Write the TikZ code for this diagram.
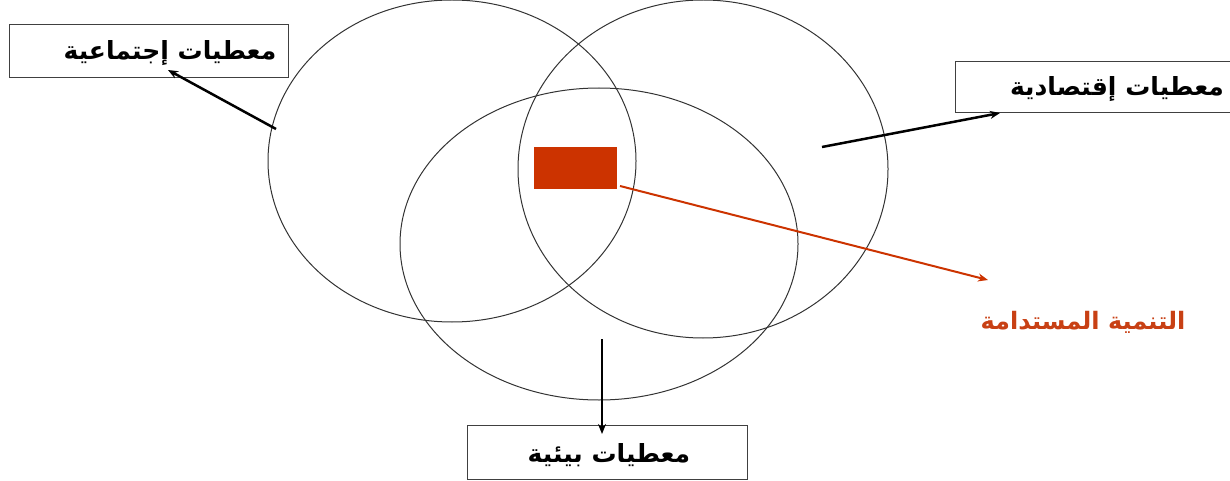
\documentclass[tikz,border=0pt]{standalone}
\usepackage{fontspec}
\newfontfamily\arabicfont[Script=Arabic]{DejaVu Sans}
\TeXXeTstate=1
\usetikzlibrary{arrows.meta}
\definecolor{sdred}{RGB}{204,51,0}
\definecolor{sdtext}{RGB}{200,64,20}
\tikzset{
  circ/.style={draw=black!80, line width=1pt},
  labbox/.style={draw=black!75, line width=1pt, fill=white},
  lab/.style={font=\arabicfont\bfseries\fontsize{25}{28}\selectfont, inner sep=0pt},
  blk/.style={-{Stealth[length=10pt,width=8pt]}, line width=2.5pt},
  redarr/.style={-{Stealth[length=10pt,width=8pt]}, line width=2pt, draw=sdred}
}
\begin{document}
\begin{tikzpicture}[x=1pt,y=-1pt]
\useasboundingbox (0,0) rectangle (1230,481);
% ellipses
\draw[circ] (452,161) ellipse [x radius=184, y radius=161];
\draw[circ] (703,169) ellipse [x radius=185, y radius=169];
\draw[circ] (599,244) ellipse [x radius=199, y radius=156];
% red rectangle
\node[fill=sdred, draw=none, minimum width=83pt, minimum height=42pt, inner sep=0pt] (core) at (575.5,168) {};
% boxes
\node[labbox, minimum width=279pt, minimum height=53pt, inner sep=0pt] (sbox) at (148.5,51.5) {};
\node[labbox, minimum width=275pt, minimum height=51pt, inner sep=0pt] (ebox) at (1092.5,87.5) {};
\node[labbox, minimum width=280pt, minimum height=54pt, inner sep=0pt] (bbox) at (607,452) {};
% labels
\node[lab] (stxt) at (170,53) {\beginR معطيات إجتماعية\endR};
\node[lab] (etxt) at (1117,89) {\beginR معطيات إقتصادية\endR};
\node[lab] (btxt) at (609,455) {\beginR معطيات بيئية\endR};
\node[lab, text=sdtext, font=\arabicfont\bfseries\fontsize{24}{28}\selectfont] (rtxt) at (1083,322) {\beginR التنمية المستدامة\endR};
% connector endpoints
\coordinate (s0) at (276,129);
\coordinate (s1) at (168,70);
\coordinate (e0) at (822,147);
\coordinate (e1) at (1000,113);
\coordinate (b0) at (602,339);
\coordinate (b1) at (602,434);
\coordinate (r0) at (620,186);
\coordinate (r1) at (988,280);
\draw[blk] (s0) -- (s1);
\draw[blk] (e0) -- (e1);
\draw[blk] (b0) -- (b1);
\draw[redarr] (r0) -- (r1);
\end{tikzpicture}
\end{document}
